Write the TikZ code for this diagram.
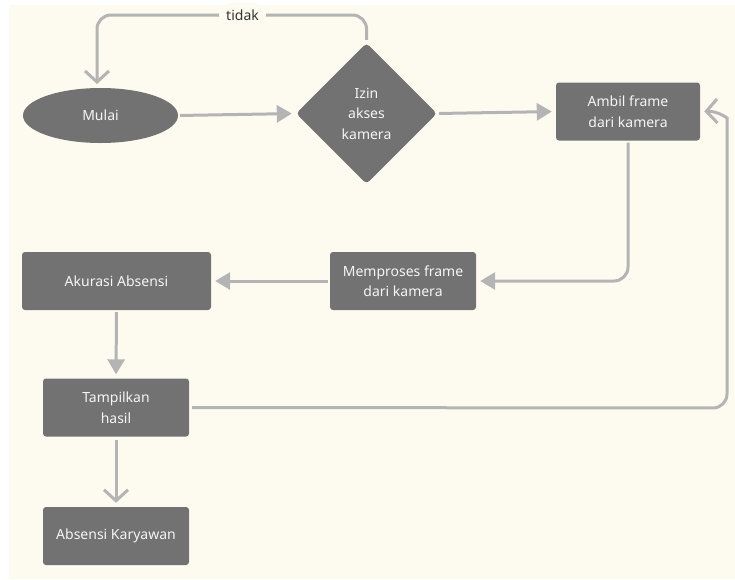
\documentclass[tikz,border=0pt]{standalone}
\usepackage{fontspec}
\setmainfont{Noto Sans}
\usetikzlibrary{shapes.geometric,arrows.meta}
\definecolor{bg}{HTML}{FDFBF0}
\definecolor{nodefill}{HTML}{727272}
\definecolor{linegray}{HTML}{B4B4B4}
\definecolor{txt}{HTML}{F5F5F5}
\definecolor{lbl}{HTML}{333333}
\begin{document}
\begin{tikzpicture}[x=1pt,y=-1pt,
  every node/.style={font=\fontsize{14}{20.5}\selectfont, text=txt, align=center},
  proc/.style={fill=nodefill, rounded corners=3pt, minimum width=#1, minimum height=58pt, inner sep=0pt},
  startnode/.style={ellipse, fill=nodefill, minimum width=155pt, minimum height=55pt, inner sep=0pt},
  decision/.style={diamond, fill=nodefill, rounded corners=4pt, minimum width=141pt, minimum height=141pt, inner sep=0pt},
  conn/.style={draw=linegray, line width=3pt},
  filledtip/.style={conn, -{Triangle[length=15pt,width=17pt]}, shorten <=2pt, shorten >=4pt},
  opentip/.style={conn, -{Straight Barb[length=11pt,width=24pt,line width=3pt]}, shorten <=3pt, shorten >=4pt},
]
\useasboundingbox (0,0) rectangle (735,579);
\fill[bg] (9,5) rectangle (735,579);

\node[startnode] (mulai) at (100.5,115.5) {Mulai};
\node[decision] (izin) at (366.5,113.5) {Izin\\akses\\kamera};
\node[proc=144pt] (ambil) at (628,111.5) {Ambil frame\\dari kamera};
\node[proc=146pt] (proses) at (403,281) {Memproses frame\\dari kamera};
\node[proc=189pt] (akurasi) at (116.5,281) {Akurasi Absensi};
\node[proc=146pt] (tampil) at (116,407.5) {Tampilkan\\hasil};
\node[proc=146pt] (absensi) at (116,536) {Absensi Karyawan};

% tidak loop
\coordinate (tr) at (366.5,15);
\coordinate (tl) at (97,15);
\coordinate (mtop) at (97,88);
\draw[opentip, rounded corners=14pt] (izin.north) -- (tr) -- node[pos=0.46, fill=bg, text=lbl, inner sep=7pt] (tidak) {tidak} (tl) -- (mtop);

\draw[filledtip] (mulai.east) -- (izin.west);
\draw[filledtip] (izin.east) -- (ambil.west);
\draw[filledtip, rounded corners=14pt] (ambil.south) |- (proses.east);
\draw[filledtip] (proses.west) -- (akurasi.east);
\draw[filledtip] (akurasi.south) -- (tampil.north);
\draw[opentip] (tampil.south) -- (absensi.north);

\coordinate (br) at (727,408);
\coordinate (rc) at (727,132);
\draw[opentip, rounded corners=14pt] (tampil.east) -- (br) -- (rc) .. controls (727,118) and (718,111) .. (ambil.east);
\end{tikzpicture}
\end{document}
